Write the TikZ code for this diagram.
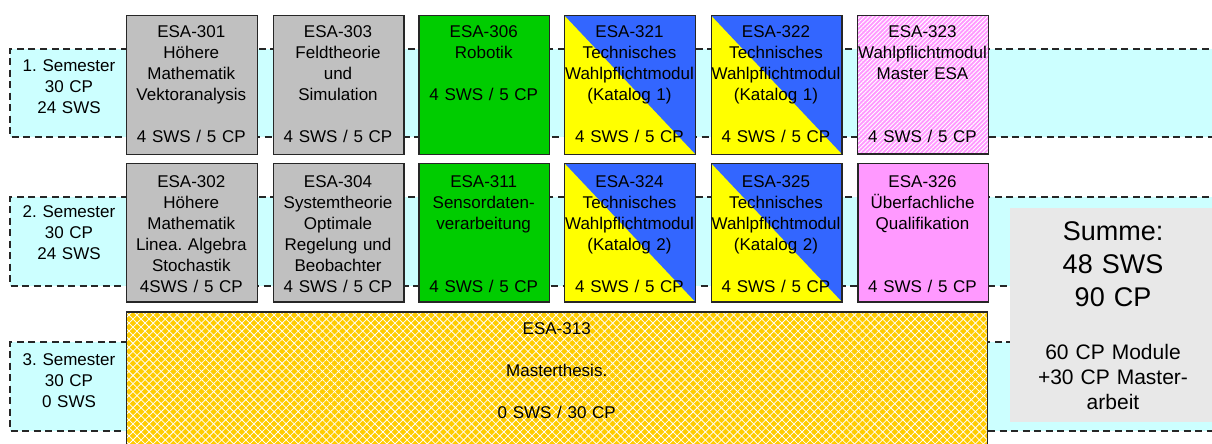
\documentclass[tikz,border=0pt]{standalone}
\usepackage{fontspec}
\setmainfont{Liberation Sans}
\usetikzlibrary{patterns.meta}
\frenchspacing

\definecolor{bandcyan}{HTML}{CCFFFF}
\definecolor{modgray}{HTML}{C0C0C0}
\definecolor{modgreen}{HTML}{00CC00}
\definecolor{modyellow}{HTML}{FFFF00}
\definecolor{modblue}{HTML}{3366FF}
\definecolor{modpink}{HTML}{FF99FF}
\definecolor{thesisgold}{HTML}{FFCC00}
\definecolor{sumgray}{HTML}{E8E8E8}

\begin{document}
\begin{tikzpicture}[x=1pt,y=-1pt,
  % semester band: cyan strip with dashed top, left and bottom edges
  bandline/.style={draw=black!85, line width=1.3pt, dash pattern=on 7pt off 4.5pt},
  % module boxes
  modbox/.style={draw=black!85, line width=1.4pt, minimum width=130.7pt,
    minimum height=138.5pt, inner sep=0pt, anchor=north west},
  graybox/.style={modbox, fill=modgray},
  greenbox/.style={modbox, fill=modgreen},
  splitbox/.style={modbox, fill=modyellow,
    path picture={\fill[modblue] (path picture bounding box.north west)
      -- (path picture bounding box.north east)
      -- (path picture bounding box.south east) -- cycle;}},
  stripebox/.style={modbox, preaction={fill=modpink},
    pattern={Lines[angle=45,distance=3pt,line width=0.9pt]}, pattern color=white},
  thesisbox/.style={draw=black!85, line width=1.4pt, inner sep=0pt,
    preaction={fill=thesisgold},
    preaction={pattern={Lines[angle=45,distance=5.7pt,line width=0.75pt]}, pattern color=white},
    pattern={Lines[angle=-45,distance=5.7pt,line width=0.75pt]}, pattern color=white},
  % texts
  modtext/.style={text width=150pt, align=center, inner sep=0pt, anchor=base,
    font=\fontsize{17}{21}\selectfont},
  semtext/.style={modtext, text width=110pt},
]
\useasboundingbox (0,0) rectangle (1212,444);
\clip (0,0) rectangle (1212,444);

% semester bands
\foreach \t/\b in {49/137, 197/286, 342/431}{
  \fill[bandcyan] (10,\t) rectangle (1220,\b);
  \draw[bandline] (1220,\t) -- (10,\t) -- (10,\b) -- (1220,\b);
}

% first semester modules
\node[graybox]   (m301) at (126,15)    {};
\node[graybox]   (m303) at (272.7,15)  {};
\node[greenbox]  (m306) at (418.3,15)  {};
\node[splitbox]  (m321) at (564,15)    {};
\node[splitbox]  (m322) at (710.7,15)  {};
\node[stripebox] (m323) at (857.3,15)  {};

% second semester modules
\node[graybox]   (m302) at (126,162.7)   {};
\node[graybox]   (m304) at (272.7,162.7) {};
\node[greenbox]  (m311) at (418.3,162.7) {};
\node[splitbox]  (m324) at (564,162.7)   {};
\node[splitbox]  (m325) at (710.7,162.7) {};
\node[modbox, fill=modpink] (m326) at (857.3,162.7) {};

% master thesis
\node[thesisbox, anchor=north west, minimum width=861.3pt, minimum height=150pt]
  (m313) at (126,311.7) {};

% summary panel
\node[fill=sumgray, anchor=north west, minimum width=215pt, minimum height=214.5pt,
  inner sep=0pt] (sum) at (1009.3,207.3) {};

% module texts, row 1
\node[modtext] (t301) at (191.3,37.5) {ESA-301\\Höhere\\Mathematik\\Vektoranalysis\\[21pt]4 SWS / 5 CP};
\node[modtext] (t303) at (338,37.5) {ESA-303\\Feldtheorie\\und\\Simulation\\[21pt]4 SWS / 5 CP};
\node[modtext] (t306) at (483.7,37.5) {ESA-306\\Robotik\\[21pt]4 SWS / 5 CP};
\node[modtext] (t321) at (629.5,37.5) {ESA-321\\Technisches\\Wahlpflichtmodul\\(Katalog 1)\\[21pt]4 SWS / 5 CP};
\node[modtext] (t322) at (776,37.5) {ESA-322\\Technisches\\Wahlpflichtmodul\\(Katalog 1)\\[21pt]4 SWS / 5 CP};
\node[modtext] (t323) at (922.5,37.5) {ESA-323\\Wahlpflichtmodul\\Master ESA\\[42pt]4 SWS / 5 CP};

% module texts, row 2
\node[modtext] (t302) at (191.3,187) {ESA-302\\Höhere\\Mathematik\\Linea. Algebra\\Stochastik\\4SWS / 5 CP};
\node[modtext] (t304) at (338,187) {ESA-304\\Systemtheorie\\Optimale\\Regelung und\\Beobachter\\4 SWS / 5 CP};
\node[modtext] (t311) at (483.7,187) {ESA-311\\Sensordaten-\\verarbeitung\\[42pt]4 SWS / 5 CP};
\node[modtext] (t324) at (629.5,187) {ESA-324\\Technisches\\Wahlpflichtmodul\\(Katalog 2)\\[21pt]4 SWS / 5 CP};
\node[modtext] (t325) at (776,187) {ESA-325\\Technisches\\Wahlpflichtmodul\\(Katalog 2)\\[21pt]4 SWS / 5 CP};
\node[modtext] (t326) at (922.5,187) {ESA-326\\Überfachliche\\Qualifikation\\[42pt]4 SWS / 5 CP};

% master thesis text
\node[modtext] (t313) at (556.7,334.5) {ESA-313\\[21pt]Masterthesis.\\[21pt]0 SWS / 30 CP};

% semester labels
\node[semtext] (s1) at (69,71.5) {1. Semester\\30 CP\\24 SWS};
\node[semtext] (s2) at (69,217)  {2. Semester\\30 CP\\24 SWS};
\node[semtext] (s3) at (69,365)  {3. Semester\\30 CP\\0 SWS};

% summary texts
\node[modtext, text width=200pt, font=\fontsize{27}{33.3}\selectfont] (sumA) at (1113,240)
  {Summe:\\48 SWS\\90 CP};
\node[modtext, text width=200pt, font=\fontsize{21}{25}\selectfont] (sumB) at (1113,359.3)
  {60 CP Module\\+30 CP Master-\\arbeit};
\end{tikzpicture}
\end{document}
